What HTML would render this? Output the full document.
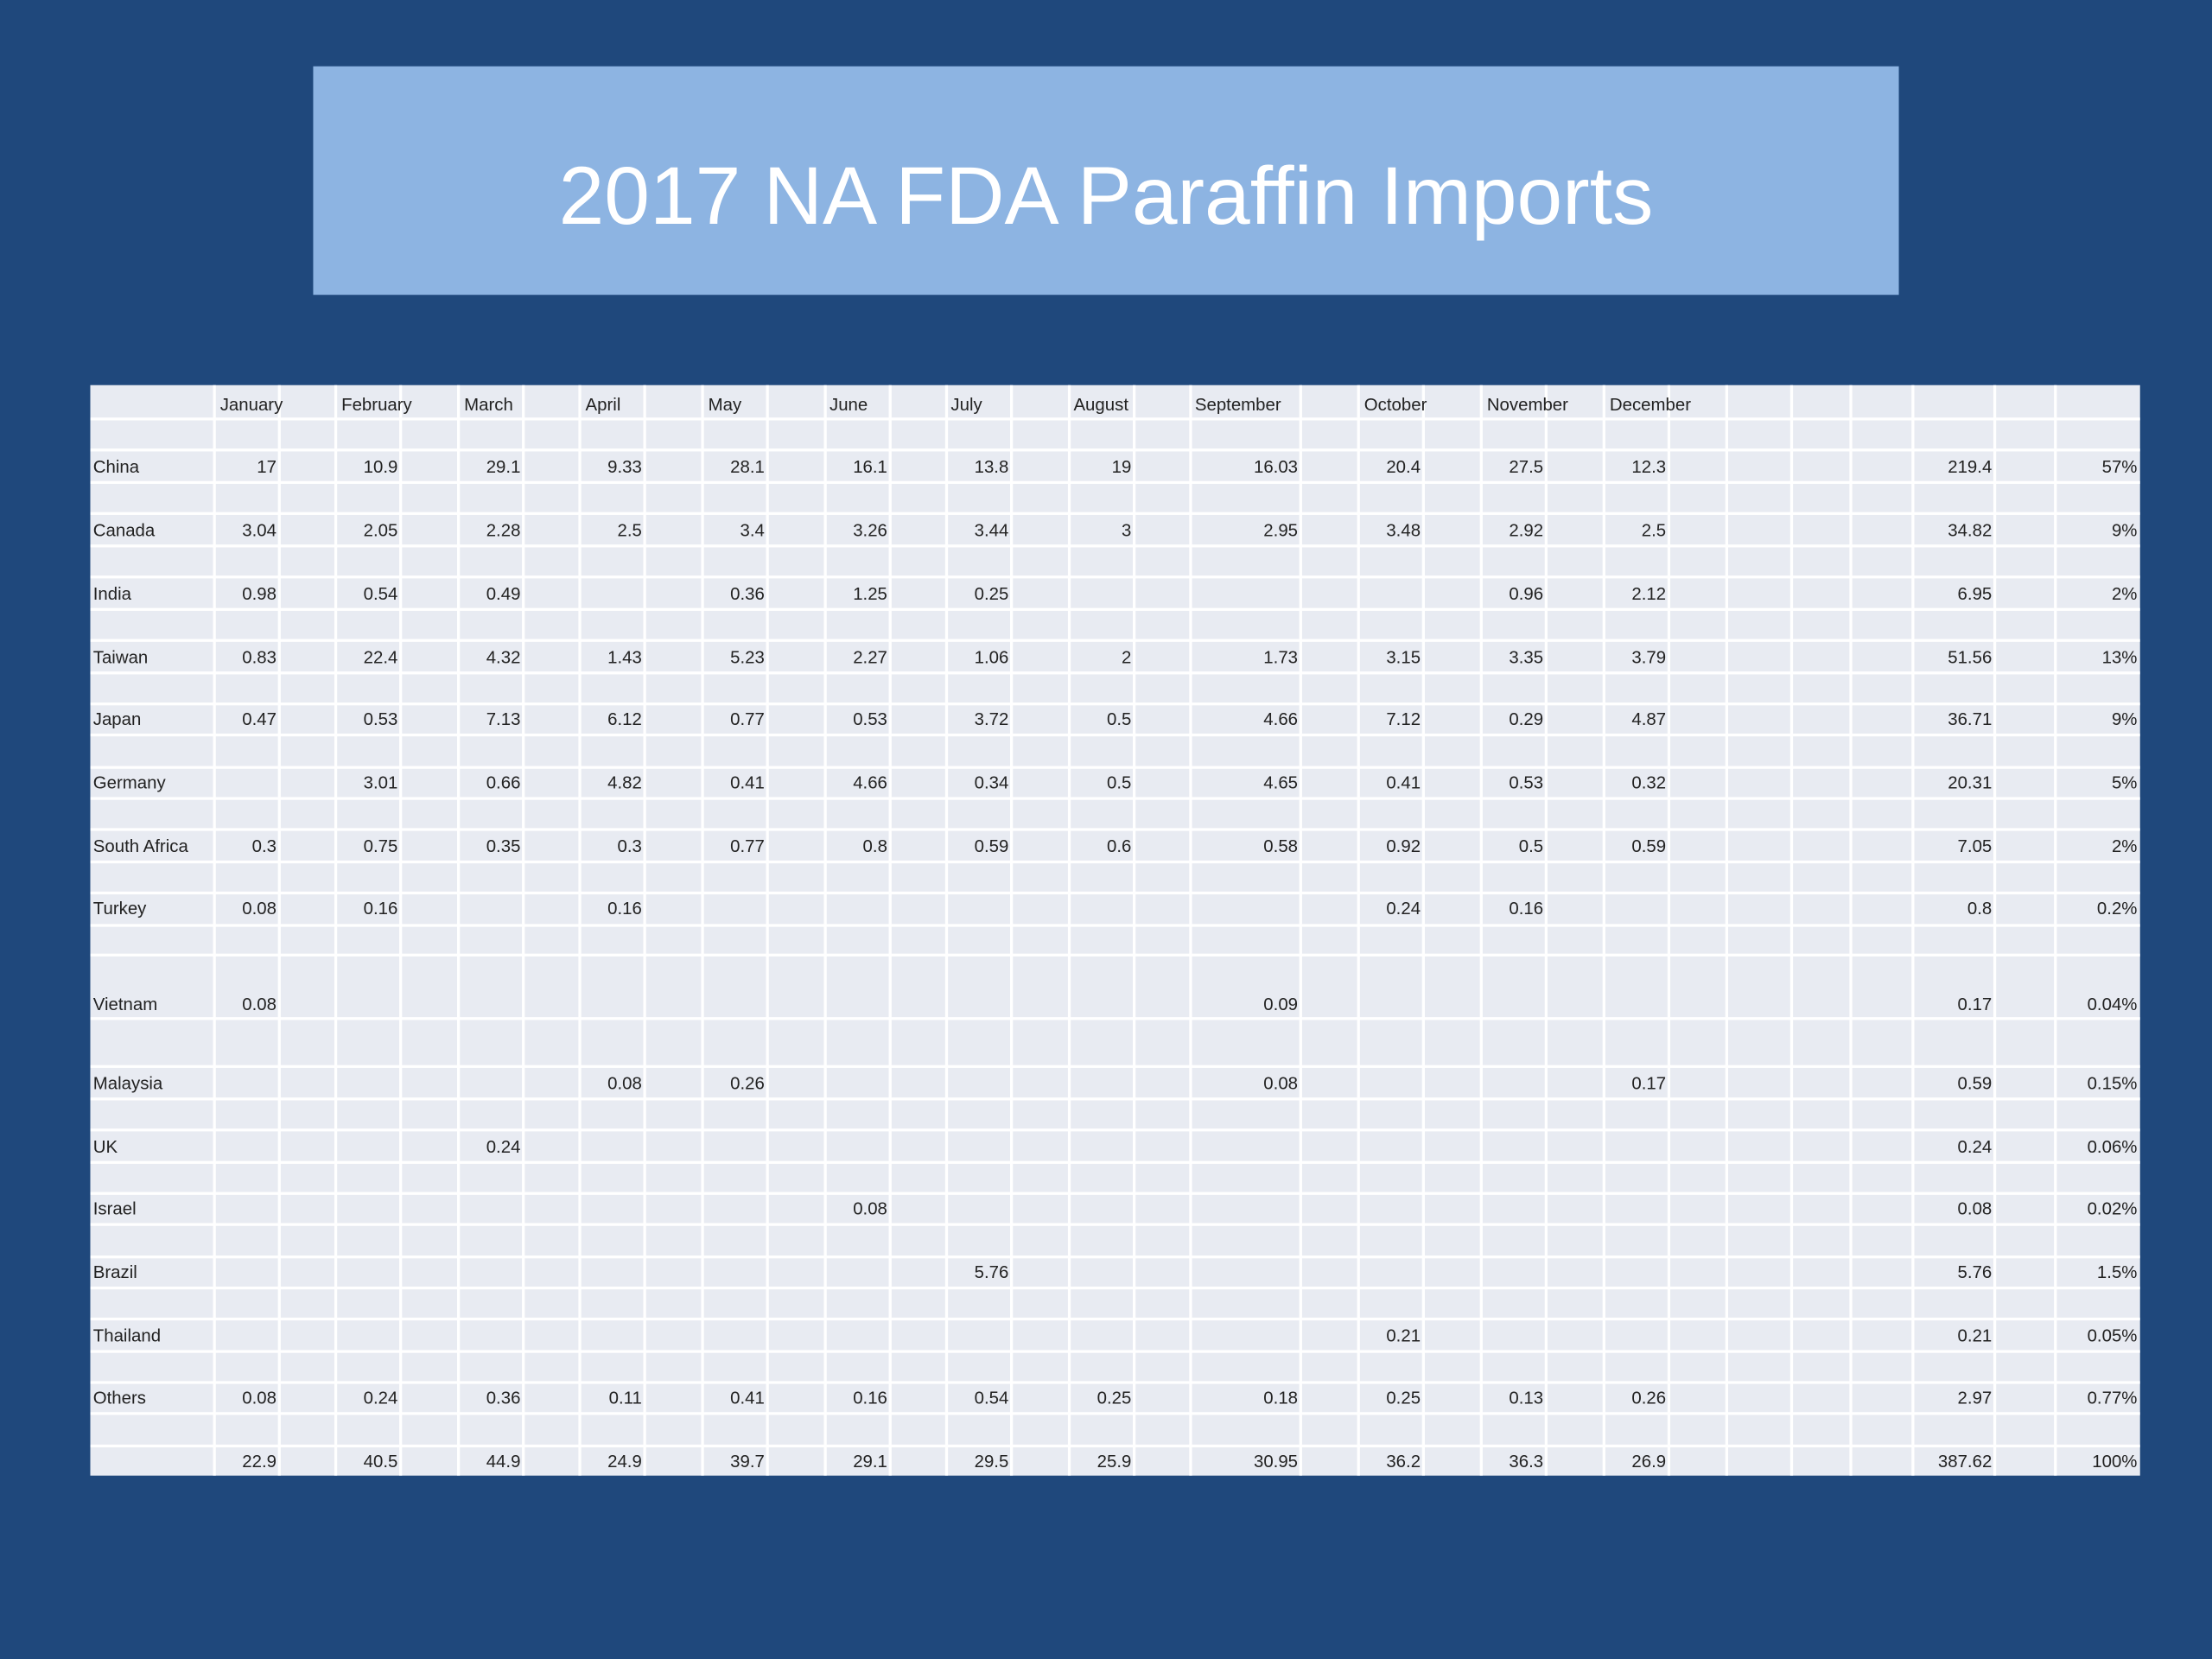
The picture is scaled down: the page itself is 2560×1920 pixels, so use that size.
<!DOCTYPE html>
<html><head><meta charset="utf-8"><style>
html,body{margin:0;padding:0;background:#1f487c;}
#stage{position:relative;width:1568px;height:1176px;transform:scale(1.63265);transform-origin:0 0;background:#1f487c;overflow:hidden;font-family:"Liberation Sans",sans-serif;}
#title-box{position:absolute;left:222px;top:47px;width:1124px;height:162px;background:#8db4e2;}
#title-box span{position:absolute;left:0;right:0;top:92px;transform:translateY(-50%);text-align:center;color:#fff;font-size:58px;}
#table{position:absolute;left:64px;top:273px;width:1453px;height:773px;background:#e8ebf2;}
.vl{position:absolute;top:0;width:2px;height:773px;background:#fff;}
.hl{position:absolute;left:0;height:2px;width:1453px;background:#fff;}
.t{position:absolute;font-size:12.5px;color:#222;white-space:nowrap;line-height:14px;}
</style></head><body>
<div id="stage">
<div id="title-box"><span>2017 NA FDA Paraffin Imports</span></div>
<div id="table"></div>
</div>
<script>
const months=["January","February","March","April","May","June","July","August","September","October","November","December"];
const countries=["China","Canada","India","Taiwan","Japan","Germany","South Africa","Turkey","Vietnam","Malaysia","UK","Israel","Brazil","Thailand","Others",""];
const values=[
["17","10.9","29.1","9.33","28.1","16.1","13.8","19","16.03","20.4","27.5","12.3"],
["3.04","2.05","2.28","2.5","3.4","3.26","3.44","3","2.95","3.48","2.92","2.5"],
["0.98","0.54","0.49","","0.36","1.25","0.25","","","","0.96","2.12"],
["0.83","22.4","4.32","1.43","5.23","2.27","1.06","2","1.73","3.15","3.35","3.79"],
["0.47","0.53","7.13","6.12","0.77","0.53","3.72","0.5","4.66","7.12","0.29","4.87"],
["","3.01","0.66","4.82","0.41","4.66","0.34","0.5","4.65","0.41","0.53","0.32"],
["0.3","0.75","0.35","0.3","0.77","0.8","0.59","0.6","0.58","0.92","0.5","0.59"],
["0.08","0.16","","0.16","","","","","","0.24","0.16",""],
["0.08","","","","","","","","0.09","","",""],
["","","","0.08","0.26","","","","0.08","","","0.17"],
["","","0.24","","","","","","","","",""],
["","","","","","0.08","","","","","",""],
["","","","","","","5.76","","","","",""],
["","","","","","","","","","0.21","",""],
["0.08","0.24","0.36","0.11","0.41","0.16","0.54","0.25","0.18","0.25","0.13","0.26"],
["22.9","40.5","44.9","24.9","39.7","29.1","29.5","25.9","30.95","36.2","36.3","26.9"]];
const totals=["219.4","34.82","6.95","51.56","36.71","20.31","7.05","0.8","0.17","0.59","0.24","0.08","5.76","0.21","2.97","387.62"];
const shares=["57%","9%","2%","13%","9%","5%","2%","0.2%","0.04%","0.15%","0.06%","0.02%","1.5%","0.05%","0.77%","100%"];

// layout (slide coords)
const T=document.getElementById('table');
const TX=64,TY=273;
const vlines=[152,198,238,284,325,371,411,457,498,544,585,631,671,717,758,804,844,922,963,1009,1050,1096,1137,1183,1224,1270,1312,1356,1414,1457];
const hlines=[297,319,342,364,387,409,432,454,477,499,521,544,566,588,611,633,656,677,722,756,779,801,824,846,868,891,913,935,958,980,1002,1025];
const rowCenters=[331,376,421,466,510,555,600,644,712,768,813,857,902,947,991,1036];
const monthRight=[198,284,371,457,544,631,717,804,922,1009,1096,1183];
const monthLeft=[156,242,329,415,502,588,674,761,847,967,1054,1141];
vlines.forEach(x=>{const d=document.createElement('div');d.className='vl';d.style.left=(x-TX-1)+'px';

T.appendChild(d);});
hlines.forEach(y=>{const d=document.createElement('div');d.className='hl';d.style.top=(y-TY-1)+'px';

T.appendChild(d);});
function txt(s,x,y,right,name){const d=document.createElement('div');d.className='t';d.textContent=s;


d.style.top=(y-TY-7)+'px';
if(right){d.style.right=(TX+1453-x+2)+'px';}else{d.style.left=(x-TX)+'px';}
T.appendChild(d);}
months.forEach((m,i)=>txt(m,monthLeft[i],287,false,'month-header'));
countries.forEach((c,r)=>{
 const y=rowCenters[r];
 if(c)txt(c,66,y,false,'country-label');
 values[r].forEach((v,i)=>{if(v)txt(v,monthRight[i],y,true,'value-cell');});
 txt(totals[r],1414,y,true,'total-cell');
 txt(shares[r],1517,y,true,'share-cell');
});
</script>
</body></html>
